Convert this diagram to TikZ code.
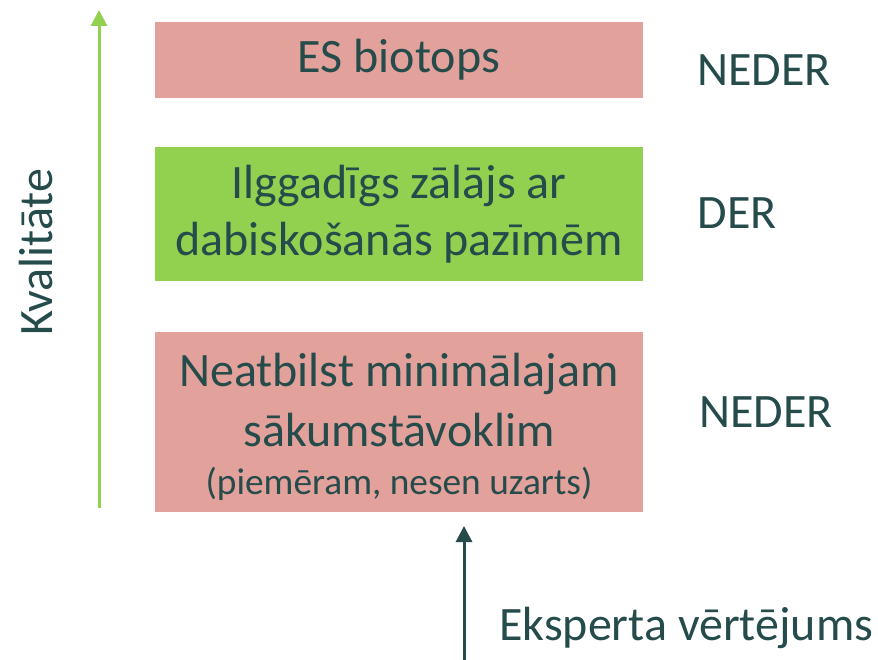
\documentclass[tikz,border=0pt]{standalone}
\usepackage{fontspec}
\setmainfont{Carlito}
\usetikzlibrary{positioning, arrows.meta}

\definecolor{inkteal}{HTML}{264B4B}
\definecolor{badpink}{HTML}{E2A19B}
\definecolor{goodgreen}{HTML}{92D050}

\tikzset{
    levelbox/.style={minimum width=366pt, inner sep=0pt, align=center, text=inkteal,
        font=\fontsize{36}{43}\selectfont},
    verdict/.style={text=inkteal, font=\fontsize{36}{43}\selectfont, inner sep=0pt},
}

\begin{document}
\begin{tikzpicture}[x=0.75pt, y=-0.75pt]

    % Canvas
    \useasboundingbox (0,0) rectangle (878,660);

    % Levels
    \node[levelbox, fill=badpink, minimum height=57pt] (es) at (399,60) {ES biotops};
    \node[levelbox, fill=goodgreen, minimum height=100.5pt] (grass) at (399,214)
        {Ilggadīgs zālājs ar\\dabiskošanās pazīmēm};
    \node[levelbox, fill=badpink, minimum height=135pt] (start) at (399,422) {};
    \node[levelbox] (starttext) at (399,427)
        {Neatbilst minimālajam\\[1.5pt]sākumstāvoklim\\[-7pt]{\fontsize{28}{34}\selectfont (piemēram, nesen uzarts)}};

    % Verdicts
    \node[verdict] (v1) at (764,70) {NEDER};
    \node[verdict] (v2) at (737,213) {DER};
    \node[verdict] (v3) at (766,412) {NEDER};

    % Quality axis
    \coordinate (qbot) at (99,508);
    \coordinate (qtop) at (99,10);
    \draw[goodgreen, line width=2.25pt, -{Triangle[width=12pt, length=12pt]}] (qbot) -- (qtop);
    \node[verdict, rotate=90] (quality) at (36,252) {Kvalitāte};

    % Expert arrow
    \coordinate (ebot) at (464,662);
    \coordinate (etop) at (464,526);
    \draw[inkteal, line width=2.25pt, -{Triangle[width=12pt, length=12pt]}] (ebot) -- (etop);
    \node[verdict, anchor=west] (expert) at (499,628) {Eksperta vērtējums};

\end{tikzpicture}
\end{document}
